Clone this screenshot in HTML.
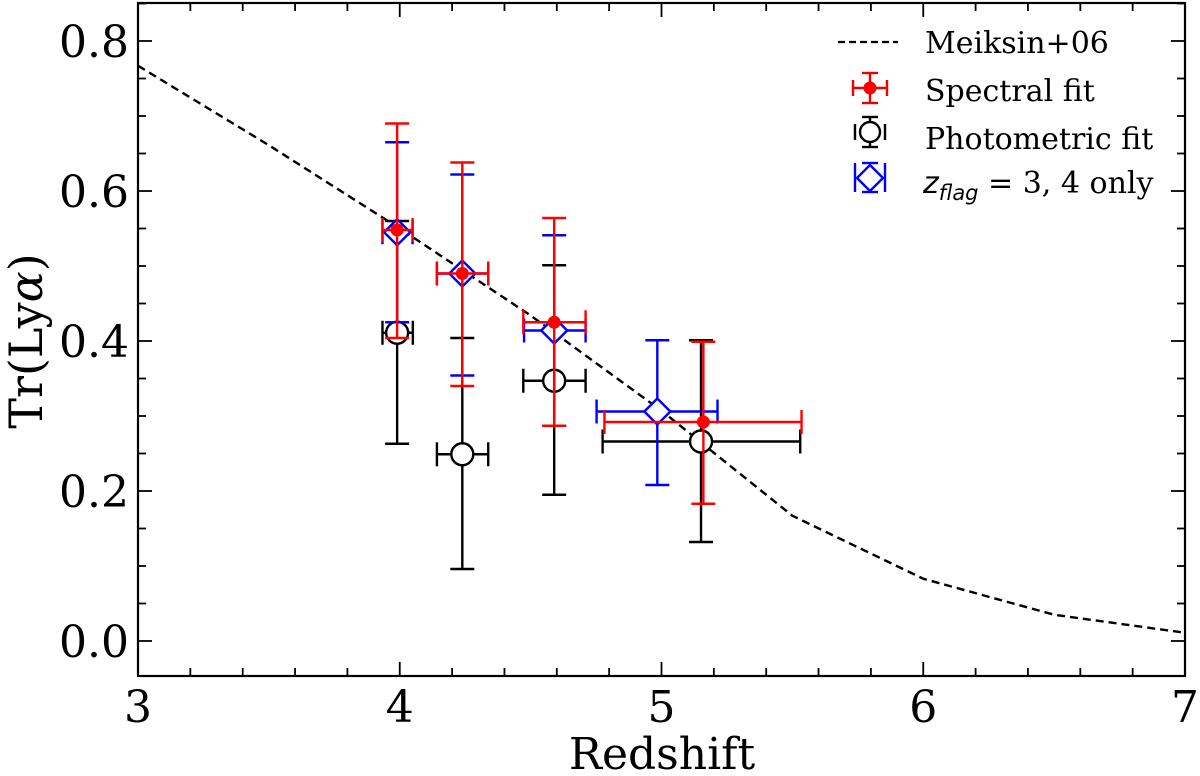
<!DOCTYPE html>
<html><head><meta charset="utf-8"><style>
body{margin:0;background:#fff}
svg{display:block;font-family:"DejaVu Serif","Liberation Serif",serif}
</style></head><body>
<svg id="chart" width="1200" height="776" viewBox="0 0 1200 776" xmlns="http://www.w3.org/2000/svg">
<g id="plot"></g>
<text x="662" y="769" font-size="44" text-anchor="middle">Redshift</text>
<text transform="translate(42,341) rotate(-90)" font-size="46" text-anchor="middle">Tr(Ly<tspan font-style="italic">α</tspan>)</text>
<g font-size="30">
 <g>
  <line x1="838" y1="42" x2="898" y2="42" stroke="#000" stroke-width="2.2" stroke-dasharray="7,4"/>
  <text x="925" y="53">Meiksin+06</text></g>
 <g stroke="#e00" stroke-width="2.4">
  <line x1="870" y1="73" x2="870" y2="103"/><line x1="853" y1="88" x2="887" y2="88"/>
  <line x1="853" y1="80" x2="853" y2="96"/><line x1="887" y1="80" x2="887" y2="96"/>
  <line x1="862" y1="73" x2="878" y2="73"/><line x1="862" y1="103" x2="878" y2="103"/>
  <circle cx="870" cy="88" r="6.5" fill="#f00" stroke="none"/>
  <text x="925" y="101" fill="#000" stroke="none">Spectral fit</text></g>
 <g stroke="#000" stroke-width="2.4">
  <line x1="870" y1="117" x2="870" y2="147"/>
  <line x1="855" y1="124" x2="855" y2="140"/><line x1="885" y1="124" x2="885" y2="140"/>
  <line x1="862" y1="117" x2="878" y2="117"/><line x1="862" y1="147" x2="878" y2="147"/>
  <circle cx="870" cy="132" r="10" fill="#fff"/>
  <text x="925" y="149" fill="#000" stroke="none">Photometric fit</text></g>
 <g stroke="#00f" stroke-width="2.4">
  <line x1="855" y1="163" x2="855" y2="192"/><line x1="885" y1="163" x2="885" y2="192"/>
  <line x1="862" y1="163" x2="878" y2="163"/><line x1="862" y1="192" x2="878" y2="192"/>
  <polygon points="870,165 883,178 870,191 857,178" fill="#fff"/>
  <text x="923" y="193" fill="#000" stroke="none"><tspan font-style="italic" font-family="DejaVu Sans, sans-serif">z</tspan><tspan font-style="italic" font-family="DejaVu Sans, sans-serif" font-size="21" dy="7">flag</tspan><tspan dy="-7"> = 3, 4 only</tspan></text></g>
</g>
</svg>
<script>
const modelZ=[3,3.5,4,4.5,5,5.5,6,6.5,7];
const modelTr=[0.767,0.661,0.55,0.434,0.307,0.167,0.083,0.035,0.011];
const specZ=[3.99,4.239,4.59,5.16];
const specTr=[0.548,0.49,0.425,0.292];
const specLo=[0.404,0.34,0.287,0.183];
const specHi=[0.69,0.638,0.564,0.399];
const specZlo=[3.934,4.142,4.472,4.782];
const specZhi=[4.049,4.338,4.71,5.535];
const photZ=[3.99,4.239,4.59,5.151];
const photTr=[0.411,0.249,0.347,0.266];
const photLo=[0.263,0.096,0.195,0.132];
const photHi=[0.56,0.404,0.501,0.401];
const photZlo=[3.934,4.142,4.472,4.775];
const photZhi=[4.05,4.338,4.71,5.53];
const flagZ=[3.99,4.239,4.59,4.984];
const flagTr=[0.545,0.49,0.414,0.306];
const flagLo=[0.425,0.354,0.287,0.208];
const flagHi=[0.665,0.622,0.541,0.401];
const flagZlo=[3.934,4.142,4.475,4.752];
const flagZhi=[4.049,4.338,4.71,5.214];
const xTicks=[3,4,5,6,7];
const yTicks=[0,0.2,0.4,0.6,0.8];

const L=138,R=1185,T=3,B=676;
const X=z=>L+(z-3)*(R-L)/4;
const Y=v=>641-v*750;
const NS="http://www.w3.org/2000/svg";
const g=document.getElementById('plot');
function mk(tag,a,parent){const e=document.createElementNS(NS,tag);for(const k in a)e.setAttribute(k,a[k]);(parent||g).appendChild(e);return e;}

const fr=mk('rect',{x:L,y:T,width:R-L,height:B-T,fill:'none',stroke:'#000','stroke-width':2.2});


for(let z=3;z<=7.001;z+=0.2){const x=X(z);const maj=Math.abs(z-Math.round(z))<1e-6;const len=maj?14:8;
 mk('line',{x1:x,y1:B,x2:x,y2:B-len,stroke:'#000','stroke-width':1.8});
 mk('line',{x1:x,y1:T,x2:x,y2:T+len,stroke:'#000','stroke-width':1.8});}
for(let i=-2;i<=17;i++){const v=i*0.05;const y=Y(v);if(y<T||y>B)continue;const maj=i%4===0;const len=maj?14:8;
 mk('line',{x1:L,y1:y,x2:L+len,y2:y,stroke:'#000','stroke-width':1.8});
 mk('line',{x1:R,y1:y,x2:R-len,y2:y,stroke:'#000','stroke-width':1.8});}
xTicks.forEach(z=>{const t=mk('text',{x:X(z),y:B+46,'font-size':44,'text-anchor':'middle'});t.textContent=z;
 
 });
yTicks.forEach(v=>{const t=mk('text',{x:L-9,y:Y(v)+16,'font-size':44,'text-anchor':'end'});t.textContent=v.toFixed(1);
 
 });
const ml=mk('polyline',{points:modelZ.map((z,i)=>X(z)+','+Y(modelTr[i])).join(' '),fill:'none',stroke:'#000','stroke-width':2.4,'stroke-dasharray':'8,5'});



function series(name,color,Z,V,Lo,Hi,Zl,Zh,marker){
 const sg=mk('g',{stroke:color,'stroke-width':2.4});
 
 
 Z.forEach((z,i)=>{const x=X(z),y=Y(V[i]);
  mk('line',{x1:x,y1:Y(Lo[i]),x2:x,y2:Y(Hi[i])},sg);
  mk('line',{x1:X(Zl[i]),y1:y,x2:X(Zh[i]),y2:y},sg);
  mk('line',{x1:x-12,y1:Y(Lo[i]),x2:x+12,y2:Y(Lo[i])},sg);
  mk('line',{x1:x-12,y1:Y(Hi[i]),x2:x+12,y2:Y(Hi[i])},sg);
  mk('line',{x1:X(Zl[i]),y1:y-12,x2:X(Zl[i]),y2:y+12},sg);
  mk('line',{x1:X(Zh[i]),y1:y-12,x2:X(Zh[i]),y2:y+12},sg);
  let m;
  if(marker==='dot')m=mk('circle',{cx:x,cy:y,r:6.5,fill:'#f00',stroke:'none'},sg);
  else if(marker==='circle')m=mk('circle',{cx:x,cy:y,r:11,fill:'#fff'},sg);
  else m=mk('polygon',{points:`${x},${y-13} ${x+13},${y} ${x},${y+13} ${x-13},${y}`,fill:'#fff'},sg);
  
  
 });
}
series('photometric','#000',photZ,photTr,photLo,photHi,photZlo,photZhi,'circle');
series('zflag','#00f',flagZ,flagTr,flagLo,flagHi,flagZlo,flagZhi,'diamond');
series('spectral','#f00',specZ,specTr,specLo,specHi,specZlo,specZhi,'dot');
</script>
</body></html>
